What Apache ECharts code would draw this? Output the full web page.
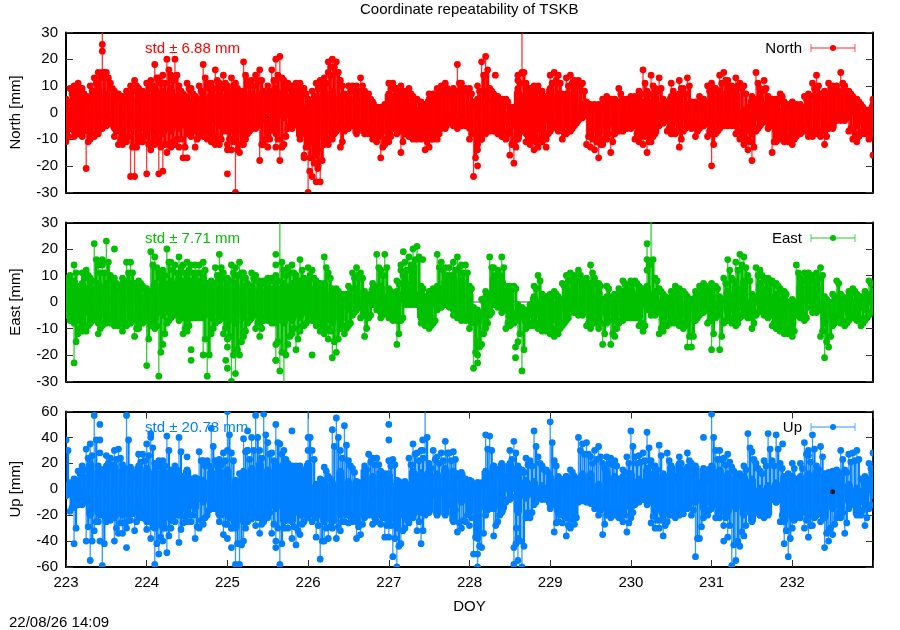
<!DOCTYPE html>
<html><head><meta charset="utf-8">
<style>html,body{margin:0;padding:0;background:#fff}#c{width:900px;height:630px}</style>
<script src="https://cdn.jsdelivr.net/npm/echarts@6/dist/echarts.min.js"></script>
</head><body><div id="c"></div>
<script>
const xTicks=[223,224,225,226,227,228,229,230,231,232];
const doyFirst=223, outerStep=0.05, coreStep=0.1;
const northHi=[5,9,10,11,9,6,10,13,15,33,15,11,8,7,6,8,10,12,9,8,11,12,18,13,14,20,14,20,10,7,11,9,6,10,18,11,11,16,11,14,10,13,11,8,19,12,12,14,16,8,10,16,20,21,12,11,10,11,11,9,5,8,11,12,13,19,20,19,12,7,10,10,10,13,7,7,2,2,2,3,11,11,9,10,8,9,6,5,4,3,7,7,9,10,11,8,9,18,11,9,9,4,10,19,21,9,7,6,5,5,2,2,14,33,11,9,10,10,8,6,14,15,14,7,13,14,12,12,11,4,3,3,3,5,6,5,5,9,5,5,6,6,8,16,8,14,9,13,5,4,11,6,12,9,13,4,4,6,5,10,11,9,14,15,12,10,13,11,10,2,6,15,9,12,6,5,5,7,4,3,4,3,3,6,7,11,14,7,8,11,10,10,15,10,8,6,5,3,1,1,5];
const northLo=[-11,-6,-9,-8,-9,-21,-10,-9,-8,-6,-5,-4,-9,-12,-12,-11,-24,-24,-11,-11,-23,-14,-12,-23,-22,-15,-13,-12,-13,-17,-8,-9,-13,-9,-9,-10,-11,-12,-12,-7,-12,-14,-30,-15,-12,-8,-6,-6,-18,-12,-13,-6,-13,-18,-12,-6,-3,-3,-10,-17,-30,-24,-26,-26,-12,-12,-10,-7,-13,-7,-6,-5,-5,-6,-7,-8,-10,-11,-17,-12,-11,-6,-8,-15,-8,-9,-10,-10,-10,-14,-13,-10,-10,-6,-5,-3,-4,-6,-5,-5,-10,-24,-12,-10,-8,-7,-7,-8,-9,-10,-16,-19,-9,-7,-11,-12,-14,-13,-11,-10,-7,-5,-7,-10,-8,-7,-5,-3,-2,-12,-13,-14,-17,-12,-10,-15,-8,-7,-7,-6,-6,-10,-11,-12,-15,-11,-6,-5,-4,-7,-8,-8,-13,-7,-5,-6,-9,-6,-5,-9,-20,-8,-6,-5,-5,-5,-8,-10,-12,-14,-18,-7,-5,-3,-6,-15,-11,-10,-11,-11,-12,-9,-8,-7,-9,-9,-8,-9,-12,-6,-4,-3,-3,-3,-7,-10,-11,-8,-8,-10,-16];
const northMidHi=[4,7,8,9,7,5,8,11,13,15,13,9,7,6,5,7,8,10,7,6,9,10,13,11,11,16,12,14,8,6,9,7,5,8,13,9,9,12,9,11,8,10,9,7,14,10,10,12,12,7,8,12,14,13,10,9,8,9,9,7,4,6,9,10,11,14,17,15,10,6,8,8,8,10,6,5,1,1,1,2,9,9,7,8,7,7,5,4,3,2,6,6,7,8,9,7,8,11,9,8,7,3,8,14,16,8,6,5,4,4,1,1,11,15,9,8,8,8,6,5,11,12,11,6,10,11,10,10,8,3,2,2,2,4,5,4,4,7,4,4,5,5,7,11,7,10,8,9,4,3,8,5,9,7,10,3,3,5,4,8,9,8,11,12,10,8,10,9,7,1,5,11,8,9,5,4,4,6,3,2,3,2,2,5,6,9,10,6,7,9,8,8,11,8,7,5,4,2,0,0];
const northMidLo=[-9,-5,-7,-7,-7,-11,-8,-8,-6,-5,-4,-3,-7,-10,-10,-9,-13,-13,-9,-9,-12,-11,-10,-13,-12,-12,-11,-10,-10,-13,-7,-7,-10,-8,-7,-8,-9,-10,-10,-6,-10,-11,-14,-12,-10,-7,-5,-5,-12,-10,-10,-5,-10,-13,-9,-5,-2,-2,-8,-13,-17,-19,-20,-18,-10,-10,-8,-6,-11,-6,-5,-4,-4,-5,-6,-7,-8,-9,-13,-10,-9,-5,-7,-11,-7,-8,-8,-8,-9,-11,-10,-8,-8,-5,-4,-2,-3,-5,-4,-4,-8,-17,-10,-8,-6,-6,-6,-7,-7,-8,-12,-13,-7,-6,-9,-10,-11,-10,-9,-8,-6,-4,-6,-8,-7,-6,-4,-2,-1,-9,-10,-11,-12,-10,-8,-11,-7,-6,-6,-5,-5,-8,-9,-9,-11,-9,-5,-4,-3,-6,-7,-7,-10,-6,-4,-5,-7,-5,-4,-7,-12,-7,-5,-4,-4,-4,-7,-8,-10,-11,-13,-6,-4,-2,-5,-11,-9,-8,-9,-9,-10,-7,-7,-6,-7,-7,-7,-7,-9,-5,-3,-2,-2,-2,-6,-8,-9,-7,-7,-8];
const northCoreHi=[2,7,7,6,9,7,6,5,6,5,7,9,8,9,7,5,6,6,7,7,7,7,8,7,7,7,9,8,7,7,3,6,8,8,6,5,6,8,4,1,7,7,6,5,2,5,6,6,7,7,3,5,8,5,4,0,8,7,7,6,9,7,7,8,3,2,2,3,4,3,4,5,5,6,4,6,7,3,3,4,6,8,8,7,1,5,6,4,4,2,2,2,4,6,6,7,7,7,4,0,3];
const northCoreLo=[-8,-7,-6,-6,-7,-3,-6,-8,-6,-7,-7,-9,-8,-7,-6,-6,-7,-7,-8,-5,-7,-8,-9,-6,-4,-8,-8,-2,-6,-9,-12,-16,-10,-8,-6,-5,-8,-8,-8,-8,-8,-6,-6,-8,-8,-9,-8,-6,-5,-4,-6,-8,-7,-6,-5,-6,-10,-8,-9,-7,-4,-5,-5,-4,-1,-7,-8,-6,-5,-5,-4,-8,-8,-8,-3,-5,-5,-3,-5,-5,-8,-4,-3,-5,-8,-8,-3,-4,-7,-7,-8,-6,-6,-5,-6,-6,-2,-1,-5,-6,-7];
const eastHi=[9,10,14,6,11,12,9,22,14,14,23,10,9,6,9,15,15,7,8,6,5,19,17,11,12,20,15,14,17,14,15,14,14,14,15,7,8,13,18,11,9,14,13,15,11,7,11,10,8,8,9,9,10,33,12,13,14,10,16,9,13,12,8,7,17,11,5,5,3,3,6,11,13,11,4,2,7,18,12,18,5,1,8,12,15,17,20,21,6,2,4,5,18,15,13,13,15,17,14,14,6,-2,-3,1,4,17,13,12,17,6,6,6,-1,-2,-3,-1,6,10,3,2,3,4,2,7,10,11,10,12,8,9,14,9,7,1,6,2,3,5,8,6,8,8,6,5,22,31,9,5,3,1,4,6,5,4,2,1,4,6,7,5,7,6,2,9,16,9,15,18,17,10,3,13,12,9,9,8,7,5,4,0,1,14,9,11,11,10,11,13,2,0,3,8,3,1,4,5,3,2,4,8,4];
const eastLo=[-5,-7,-23,-12,-11,-11,-8,-6,-12,-9,-8,-8,-9,-9,-11,-9,-8,-13,-10,-8,-24,-9,-10,-28,-16,-8,-6,-5,-7,-12,-11,-6,-6,-6,-20,-28,-12,-8,-7,-12,-17,-30,-27,-20,-13,-8,-6,-10,-13,-7,-7,-8,-22,-26,-33,-16,-12,-18,-11,-9,-7,-7,-9,-11,-12,-14,-21,-19,-10,-12,-9,-5,-3,-6,-13,-6,-1,-3,-6,-4,-6,-7,-16,-7,-1,-1,-1,-1,-8,-9,-10,-8,-3,-2,-1,-2,-5,-6,-7,-7,-10,-25,-23,-16,-10,-5,-1,-2,-4,-10,-9,-8,-15,-26,-10,-9,-9,-10,-11,-11,-12,-13,-12,-9,-7,-4,-4,-5,-5,-9,-10,-8,-10,-16,-8,-16,-13,-8,-7,-6,-6,-6,-9,-11,-3,-5,-5,-12,-11,-9,-8,-8,-9,-10,-17,-17,-7,-5,-4,-8,-18,-6,-18,-8,-7,-8,-9,-6,-5,-6,-10,-5,-3,-5,-6,-9,-10,-11,-12,-12,-13,-5,-6,-7,-2,-4,-4,-13,-21,-17,-9,-6,-8,-9,-7,-6,-7,-9,-7,-5,-3];
const eastMidHi=[7,8,11,5,9,10,8,16,11,11,15,8,7,5,8,11,11,6,7,5,4,14,13,9,10,15,12,11,13,11,12,11,11,11,12,6,7,10,13,9,8,11,10,11,9,6,9,8,7,7,8,8,8,15,10,11,11,8,12,8,10,9,7,6,13,9,4,4,2,2,5,9,10,9,3,1,6,13,10,13,4,0,7,10,12,14,16,17,5,1,3,4,13,12,10,10,12,13,11,11,5,-3,-4,0,3,13,10,10,13,5,5,5,-2,-3,-4,-2,5,8,2,1,2,3,1,6,8,9,8,10,7,7,11,7,6,0,5,1,2,4,7,5,7,7,5,4,14,16,8,4,2,0,3,5,4,3,1,0,3,5,6,4,6,5,1,7,12,8,12,14,13,8,2,10,10,8,8,7,6,4,3,-1,0,11,8,9,9,8,9,10,1,-1,2,7,2,0,3,4,2,1,3,7];
const eastMidLo=[-4,-6,-15,-10,-9,-9,-7,-5,-10,-8,-7,-7,-8,-8,-9,-8,-7,-10,-8,-7,-14,-8,-9,-19,-12,-7,-5,-4,-6,-10,-9,-5,-5,-5,-14,-20,-10,-7,-6,-10,-13,-20,-18,-15,-11,-7,-5,-8,-10,-6,-6,-7,-15,-19,-20,-13,-10,-14,-9,-8,-6,-6,-8,-9,-10,-11,-15,-14,-9,-10,-8,-4,-2,-5,-10,-5,0,-2,-5,-3,-5,-6,-12,-6,0,0,0,0,-7,-8,-9,-7,-2,-1,0,-1,-4,-5,-6,-6,-8,-19,-17,-12,-8,-4,0,-1,-3,-8,-8,-7,-12,-18,-9,-8,-8,-9,-9,-9,-10,-11,-10,-8,-6,-3,-3,-4,-4,-8,-8,-7,-8,-12,-7,-12,-10,-7,-6,-5,-5,-5,-8,-9,-2,-4,-4,-10,-9,-8,-7,-7,-8,-9,-13,-13,-6,-4,-3,-7,-12,-5,-13,-7,-6,-7,-8,-5,-4,-5,-8,-4,-2,-4,-5,-8,-9,-9,-10,-10,-11,-4,-5,-6,-1,-3,-3,-11,-15,-13,-8,-5,-7,-8,-6,-5,-6,-8,-6,-4];
const eastCoreHi=[6,8,7,6,7,7,6,7,7,5,3,7,8,8,9,9,9,9,5,9,6,7,6,6,5,6,6,7,7,8,8,6,7,4,2,3,5,2,5,6,3,4,8,14,4,3,6,8,9,8,3,-4,2,9,8,4,-3,-4,2,1,1,0,5,7,5,7,4,2,1,4,5,4,6,4,1,2,2,0,2,3,3,0,4,6,8,1,7,6,3,2,-1,6,8,6,0,0,1,2,1,2,2];
const eastCoreLo=[-4,-8,-8,-5,-8,-6,-7,-7,-6,-6,-7,-7,-5,-5,-5,-7,-5,-6,-6,-5,-8,-8,-6,-5,-6,-5,-8,-8,-7,-6,-5,-7,-8,-8,-7,-3,-2,-5,-1,-4,-5,-7,0,0,-6,-7,-2,-1,-3,-5,-7,-8,-6,-1,-2,-6,-7,-8,-6,-8,-8,-8,-4,-2,-3,-6,-5,-5,-7,-5,-4,-6,-2,-4,-7,-6,-6,-8,-4,-2,-7,-3,-4,-5,-3,-6,-1,-5,-8,-9,-9,-4,-1,-2,-8,-6,-4,-5,-5,-3,-1];
const upHi=[38,5,8,14,18,31,35,57,18,15,26,24,30,31,19,57,15,11,27,27,35,43,20,22,22,41,13,18,40,10,8,8,9,29,22,22,47,22,23,28,60,28,7,12,39,30,40,57,30,58,36,28,50,35,30,20,18,18,18,15,65,30,4,8,17,10,46,55,30,49,22,16,6,5,18,27,24,24,5,12,22,23,7,3,1,24,35,28,30,65,20,30,25,28,37,28,29,12,-2,8,7,3,5,5,42,41,18,15,10,10,30,37,17,15,24,22,45,25,18,15,52,22,10,3,10,15,10,40,35,36,25,30,33,20,25,24,22,8,15,25,45,25,26,28,44,22,18,34,10,28,10,10,25,15,28,20,2,5,8,15,58,30,30,24,27,17,12,12,18,43,29,20,14,22,43,22,42,20,1,12,20,8,20,36,26,42,18,33,8,13,1,15,30,15,27,28,30,8,2,20,28];
const upLo=[-5,-17,-42,-12,-12,-40,-55,-32,-25,-59,-25,-24,-40,-34,-34,-25,-24,-32,-22,-22,-31,-38,-58,-50,-40,-49,-30,-25,-41,-26,-25,-25,-38,-30,-27,-20,-15,-15,-25,-35,-27,-30,-58,-58,-40,-25,-23,-28,-34,-25,-22,-34,-40,-58,-30,-30,-38,-43,-35,-25,-22,-25,-37,-54,-40,-38,-30,-38,-32,-25,-26,-25,-38,-35,-15,-20,-27,-25,-27,-37,-37,-52,-60,-42,-30,-26,-22,-32,-42,-20,-5,-4,-3,-3,-1,-12,-20,-33,-30,-25,-28,-50,-60,-45,-20,-15,-36,-25,-17,-10,-8,-58,-55,-60,-22,-22,-12,-7,-8,-8,-15,-33,-25,-26,-36,-30,-27,-10,-9,-10,-11,-15,-20,-35,-20,-22,-20,-22,-25,-33,-22,-12,-10,-8,-12,-26,-30,-30,-36,-25,-20,-22,-20,-19,-14,-20,-52,-38,-22,-20,-15,-22,-22,-28,-37,-59,-55,-44,-36,-12,-15,-18,-20,-22,-10,-8,-10,-25,-42,-52,-30,-22,-22,-30,-37,-28,-20,-25,-45,-40,-35,-22,-22,-34,-15,-10,-12,-20,-28,-15,-5];
const upMidHi=[30,4,7,12,15,24,26,38,15,13,20,19,23,24,16,38,13,10,21,22,26,32,17,18,18,30,11,15,29,9,7,7,8,22,18,18,33,18,19,22,42,22,6,10,29,23,30,40,24,42,27,22,36,27,23,17,15,15,15,13,40,23,3,7,14,8,33,40,24,34,18,13,5,4,15,21,19,19,4,10,18,19,6,2,0,19,27,22,24,40,16,23,20,22,28,22,23,10,-3,7,6,2,4,4,31,30,15,13,8,8,23,28,14,13,19,18,33,20,15,13,36,18,8,2,8,13,8,30,27,27,20,23,25,16,20,19,18,7,13,20,33,20,21,22,32,18,15,26,8,22,8,8,20,13,22,16,1,4,7,13,40,23,23,19,21,14,10,10,15,32,23,16,12,18,31,18,31,16,0,10,16,7,16,27,21,31,15,25,7,11,0,13,23,13,21,22,23,7,1,16];
const upMidLo=[-4,-14,-30,-10,-10,-29,-40,-25,-20,-42,-20,-19,-30,-26,-26,-20,-19,-25,-18,-18,-25,-29,-42,-37,-30,-36,-24,-20,-31,-21,-20,-20,-29,-24,-22,-16,-12,-12,-20,-27,-22,-24,-42,-43,-30,-20,-18,-22,-27,-20,-18,-27,-30,-42,-24,-24,-29,-32,-27,-20,-18,-20,-28,-40,-30,-29,-24,-29,-25,-20,-21,-20,-29,-27,-12,-16,-22,-20,-22,-28,-28,-38,-44,-32,-24,-21,-18,-25,-32,-16,-4,-3,-2,-2,0,-10,-16,-26,-24,-20,-22,-37,-44,-34,-16,-12,-28,-20,-14,-8,-6,-42,-40,-44,-18,-18,-10,-6,-6,-6,-12,-26,-20,-21,-28,-24,-22,-8,-7,-8,-9,-12,-16,-27,-16,-18,-16,-18,-20,-26,-18,-10,-8,-6,-10,-21,-24,-24,-28,-20,-16,-18,-16,-15,-11,-16,-38,-29,-18,-16,-12,-18,-18,-22,-28,-43,-40,-33,-28,-10,-12,-14,-16,-18,-8,-6,-8,-20,-32,-38,-24,-18,-18,-24,-28,-22,-16,-20,-34,-30,-27,-18,-18,-26,-12,-8,-10,-16,-22,-12];
const upCoreHi=[3,6,12,20,14,18,18,15,17,18,16,14,15,15,12,15,7,7,14,15,15,5,14,16,20,15,20,20,15,14,20,3,6,5,14,6,5,15,10,14,12,5,6,14,13,14,12,16,14,13,4,5,14,18,20,20,18,7,6,3,10,8,10,6,12,12,4,14,10,10,12,8,16,14,12,18,20,17,18,16,18,15,12,10,10,8,1,3,5,10,10,10,12,14,12,14,12,4,1,10,16];
const upCoreLo=[-4,-14,-10,-20,-18,-24,-22,-20,-18,-18,-25,-30,-30,-24,-20,-18,-15,-10,-15,-20,-20,-30,-25,-20,-22,-20,-15,-25,-25,-20,-18,-22,-25,-25,-20,-20,-25,-22,-20,-20,-25,-30,-22,-20,-18,-18,-20,-20,-25,-10,-18,-35,-15,-15,-18,-2,-18,-7,-6,-5,-12,-18,-22,-20,-8,-8,-15,-15,-18,-20,-15,-8,-10,-18,-20,-18,-15,-15,-10,-15,-12,-16,-18,-15,-20,-25,-20,-20,-10,-25,-22,-18,-20,-20,-22,-15,-15,-10,-20,-12,-3];
// extra beads
const northBeads=[[223.45,25.5],[223.45,23],[223.45,15],[224.15,-11],[224.5,-17],[225,-23],[225,-14],[225.95,-16],[226.02,-22],[226.12,-21],[226.12,-14],[226.25,15],[226.28,17],[228.1,-20],[228.1,-14],[228.15,-10],[228.32,14],[228.65,15],[228.6,12],[228.6,9],[228.58,-10],[228.95,-13]];
const eastBeads=[[223.45,16],[223.6,20],[225.6,14],[225.6,18],[225.6,-22],[225.6,-16],[224.55,-22],[224.55,-18],[224.98,-22],[225,-25],[225,-14],[226.05,-20],[227.15,14],[227.18,19],[227.42,16],[228.1,-20],[228.1,-15],[228.57,-21],[228.57,-17],[230.2,16],[230.2,12]];
const upBeads=[[223.42,38],[223.42,50],[223.42,28],[223.42,-40],[223.75,-45],[223.75,-30],[224.05,40],[224.5,25],[225,30],[225,-38],[225.05,-45],[225.05,-30],[225.25,45],[225.25,30],[225.6,-45],[225.8,45],[226,40],[226,30],[227,50],[227,38],[227.42,30],[227.42,38],[228.1,-50],[228.1,-38],[228.55,-45],[228.6,-38],[228.58,-30],[230.9,40],[231.15,-40],[231.88,35],[232.2,30],[232.45,-32]];
const northDots=[[225.5,-1.7]], eastDots=[], upDots=[[232.5,-2]];

const panels=[
 {name:'North [mm]',c:'#ff0000',hi:northHi,lo:northLo,mh:northMidHi,ml:northMidLo,ch:northCoreHi,cl:northCoreLo,beads:northBeads,dots:northDots,max:30,step:10,top:32.5,h:160,std:'std ± 6.88 mm',key:'North',stdY:49,mw:3.2},
 {name:'East [mm]',c:'#00c000',hi:eastHi,lo:eastLo,mh:eastMidHi,ml:eastMidLo,ch:eastCoreHi,cl:eastCoreLo,beads:eastBeads,dots:eastDots,max:30,step:10,top:222.5,h:159,std:'std ± 7.71 mm',key:'East',stdY:239,mw:3},
 {name:'Up [mm]',c:'#0080ff',hi:upHi,lo:upLo,mh:upMidHi,ml:upMidLo,ch:upCoreHi,cl:upCoreLo,beads:upBeads,dots:upDots,max:60,step:20,top:411.5,h:155.5,std:'std ± 20.78 mm',key:'Up',stdY:428,mw:2.2}
];
const F='"Liberation Sans",Helvetica,Arial,sans-serif';
const FS=15;
const DOT=3.4;
const grids=[],xA=[],yA=[],series=[],gfx=[];
panels.forEach((p,k)=>{
 grids.push({left:64.5,width:808.5,top:p.top,height:p.h,show:false});
 const last=k===2;
 const line={show:true,onZero:false,lineStyle:{color:'#000',width:2}};
 const xBase={type:'value',gridIndex:k,min:223,max:233,interval:1,splitLine:{show:false},axisLine:line};
 xA.push({...xBase,position:'bottom',
   axisTick:{show:last,inside:true,length:7,lineStyle:{color:'#333',width:1}},
   axisLabel:{show:last,margin:8,color:'#000',fontSize:FS,fontFamily:F,formatter:v=>xTicks.includes(v)?String(v):''},
   name:last?'DOY':'',nameLocation:'middle',nameGap:32,nameTextStyle:{color:'#000',fontSize:FS,fontFamily:F}});
 const xi=xA.length-1;
 xA.push({...xBase,position:'top',axisTick:{show:last,inside:true,length:7,lineStyle:{color:'#333',width:1}},axisLabel:{show:false}});
 const yBase={type:'value',gridIndex:k,min:-p.max,max:p.max,interval:p.step,splitLine:{show:false},axisLine:line,
   axisTick:{show:true,inside:true,length:7,lineStyle:{color:'#333',width:1}}};
 yA.push({...yBase,position:'left',axisLabel:{color:'#000',fontSize:FS,fontFamily:F,margin:8},
   name:p.name,nameLocation:'middle',nameGap:43,nameTextStyle:{color:'#000',fontSize:FS,fontFamily:F}});
 const yi=yA.length-1;
 yA.push({...yBase,position:'right',axisLabel:{show:false}});
 const base={xAxisIndex:xi,yAxisIndex:yi,silent:true,animation:false};
 const dotAt=q=>({type:'circle',shape:{cx:q[0],cy:q[1],r:DOT},style:{fill:p.c}});
 series.push({...base,type:'line',data:[[223,0],[233,0]],symbol:'none',z:1,lineStyle:{color:'#555',width:1}});
 // dense body of points
 series.push({...base,type:'custom',clip:true,z:2,encode:{x:0,y:[1,2]},
   data:p.ch.map((v,j)=>[doyFirst+j*coreStep,p.cl[j],v]),
   renderItem:(ps,api)=>{const a=api.coord([api.value(0),api.value(1)]),b=api.coord([api.value(0),api.value(2)]);
     return {type:'group',children:[{type:'line',shape:{x1:a[0],y1:a[1],x2:b[0],y2:b[1]},style:{stroke:p.c,lineWidth:8.2}},dotAt(a),dotAt(b)]};}});
 // inner chains of points
 series.push({...base,type:'custom',clip:true,z:3,encode:{x:0,y:[1,2]},
   data:p.mh.map((v,i)=>[doyFirst+outerStep/2+i*outerStep,p.ml[i],v]),
   renderItem:(ps,api)=>{const a=api.coord([api.value(0),api.value(1)]),b=api.coord([api.value(0),api.value(2)]);
     return {type:'group',children:[{type:'line',shape:{x1:a[0],y1:a[1],x2:b[0],y2:b[1]},style:{stroke:p.c,lineWidth:p.mw}},dotAt(a),dotAt(b)]};}});
 // outermost points with their spikes
 series.push({...base,type:'custom',clip:true,z:3,encode:{x:0,y:[1,2]},
   data:p.hi.map((v,i)=>[doyFirst+i*outerStep,p.lo[i],v]),
   renderItem:(ps,api)=>{const x=api.value(0),a=api.coord([x,api.value(1)]),b=api.coord([x,api.value(2)]);
     return {type:'group',children:[
       {type:'line',shape:{x1:a[0],y1:a[1],x2:b[0],y2:b[1]},style:{stroke:p.c,lineWidth:1.3,opacity:.8}},dotAt(a),dotAt(b)]};}});
 series.push({...base,type:'scatter',clip:true,z:4,data:p.beads,symbol:'circle',symbolSize:DOT*2,itemStyle:{color:p.c,opacity:1}});
 if(p.dots.length) series.push({...base,type:'scatter',z:5,data:p.dots,symbol:'circle',symbolSize:k===2?5:2,itemStyle:{color:'#000'}});
 gfx.push({type:'text',left:145,top:p.stdY-8,z:k===2?1:50,style:{text:p.std,fill:p.c,font:FS+'px '+F}});
 const ky=p.top+15.5;
 gfx.push({type:'text',right:98,top:ky-7,z:50,style:{text:p.key,fill:'#000',font:FS+'px '+F,textAlign:'right'}});
 gfx.push({type:'line',z:50,shape:{x1:811,y1:ky,x2:855,y2:ky},style:{stroke:p.c,lineWidth:1.2,opacity:.85}});
 gfx.push({type:'line',z:50,shape:{x1:811,y1:ky-4,x2:811,y2:ky+4},style:{stroke:p.c,lineWidth:1.2,opacity:.55}});
 gfx.push({type:'line',z:50,shape:{x1:855,y1:ky-4,x2:855,y2:ky+4},style:{stroke:p.c,lineWidth:1.2,opacity:.55}});
 gfx.push({type:'circle',z:50,shape:{cx:833,cy:ky,r:3},style:{fill:p.c}});
});
gfx.push({type:'text',left:360,top:2,style:{text:'Coordinate repeatability of TSKB',fill:'#000',font:FS+'px '+F}});
gfx.push({type:'text',left:9,top:615,style:{text:'22/08/26 14:09',fill:'#000',font:FS+'px '+F}});
const chart=echarts.init(document.getElementById('c'),null,{renderer:'canvas'});
chart.setOption({animation:false,backgroundColor:'#fff',grid:grids,xAxis:xA,yAxis:yA,series,graphic:{elements:gfx}});
</script></body></html>
